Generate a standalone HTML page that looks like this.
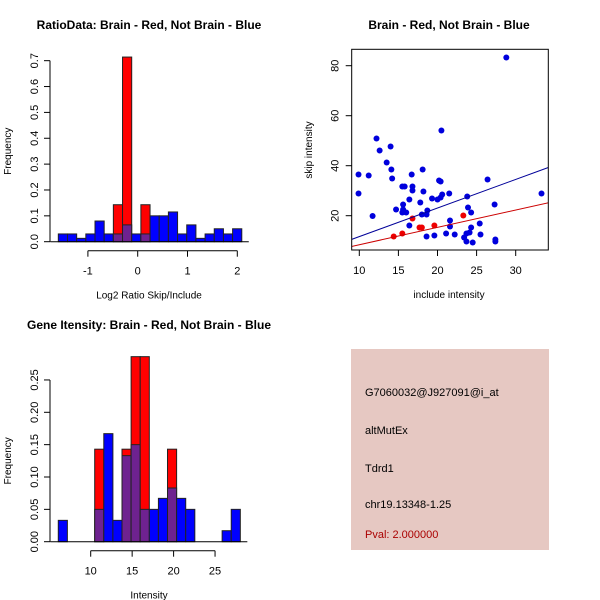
<!DOCTYPE html>
<html><head><meta charset="utf-8"><style>
body{margin:0;background:#fff}
svg{display:block;font-family:"Liberation Sans",sans-serif}
</style></head><body>
<svg id="c" width="600" height="600" viewBox="0 0 600 600"></svg>
<script>
// ---- Ratio histogram data ----
const ratioBinStart = -1.594;
const ratioBinWidth = 0.1842;
const ratioBlue = [0.03,0.03,0.013,0.03,0.08,0.03,0.03,0.065,0.03,0.03,0.1,0.1,0.115,0.03,0.065,0.013,0.03,0.05,0.03,0.05];
const ratioRed  = [0,0,0,0,0,0,0.143,0.714,0,0.143,0,0,0,0,0,0,0,0,0,0];
const ratioXTicks = [-1,0,1,2];
const ratioYTicks = ["0.0","0.1","0.2","0.3","0.4","0.5","0.6","0.7"];
// ---- Scatter data ----
const blueX = [9.9,9.9,11.2,11.7,12.2,12.6,13.5,14.0,14.1,14.2,14.7,15.5,15.8,15.6,15.6,15.5,16.0,16.4,16.4,16.7,16.8,16.8,17.8,18.1,18.2,18.0,18.6,18.7,18.6,19.3,19.6,20.0,20.2,20.4,20.4,20.6,20.5,21.1,21.5,21.6,21.6,22.2,23.4,23.7,23.7,23.8,23.9,24.1,24.3,24.3,24.5,25.4,25.5,26.4,27.3,27.4,27.4,28.8,33.3];
const blueY = [36.5,28.9,36.1,19.9,50.9,46.1,41.3,47.7,38.5,34.9,22.5,31.7,31.7,24.5,22.5,21.3,21.3,26.5,16.1,36.5,31.7,30.1,25.3,38.5,29.7,20.5,20.5,22.1,11.7,26.9,12.1,26.5,34.1,33.7,27.3,28.5,54.1,12.9,28.9,18.1,15.7,12.5,11.3,9.7,12.9,27.7,23.3,13.3,21.3,15.3,9.3,16.9,12.5,34.5,24.5,10.5,9.7,83.3,28.9];
const redX = [14.4,15.5,16.8,17.7,18.0,19.6,23.3];
const redY = [11.7,12.9,18.9,15.3,15.3,16.1,20.1];
const blueFit = [0.21,1.143]; // intercept, slope
const redFit = [1.45,0.694];
const scatXTicks = [10,15,20,25,30];
const scatYTicks = [20,40,60,80];
// ---- Intensity histogram data ----
const intBinStart = 6.09;
const intBinWidth = 1.098;
const intBlue = [0.033,0,0,0,0.05,0.167,0.033,0.133,0.15,0.05,0.05,0.067,0.083,0.067,0.05,0,0,0,0.017,0.05];
const intRed  = [0,0,0,0,0.143,0,0,0.143,0.286,0.286,0,0,0.143,0,0,0,0,0,0,0];
const intXTicks = [10,15,20,25];
const intYTicks = ["0.00","0.05","0.10","0.15","0.20","0.25"];
const infoLines = ["G7060032@J927091@i_at","altMutEx","Tdrd1","chr19.13348-1.25"];
const pvalText = "Pval: 2.000000";

const svg=document.getElementById('c');
const NS='http://www.w3.org/2000/svg';
function mk(tag,attrs,parent){const e=document.createElementNS(NS,tag);for(const k in attrs)e.setAttribute(k,attrs[k]);(parent||svg).appendChild(e);return e;}
function txt(s,x,y,o,parent){const e=mk('text',Object.assign({x:x,y:y,'font-size':11,fill:'#000'},o||{}),parent);e.textContent=s;return e;}

function hist(g,cfg){
  const sx=v=>cfg.x0+(v-cfg.d0)*cfg.kx, sy=v=>cfg.y0-v*cfg.ky;
  cfg.blue.forEach((b,i)=>{
    const r=cfg.red[i];const xl=sx(cfg.bs+i*cfg.bw), xr=sx(cfg.bs+(i+1)*cfg.bw);
    const top=Math.max(b,r); if(top<=0) return;
    const col = r>0 && b>0 ? null : (r>0?'#ff0000':'#0000ff');
    if(r>0){const e=mk('rect',{x:xl,y:sy(r),width:xr-xl,height:sy(0)-sy(r),fill:'#ff0000',stroke:'#222','stroke-width':1},g);
      }
    if(b>0){const c = r>0 ? '#6e2290' : '#0000ff';
      const e=mk('rect',{x:xl,y:sy(b),width:xr-xl,height:sy(0)-sy(b),fill:c,stroke:'#222','stroke-width':1},g);
      }
  });
  // baseline
  mk('line',{x1:sx(cfg.bs)-8,x2:sx(cfg.bs+20*cfg.bw)+7,y1:cfg.y0,y2:cfg.y0,stroke:'#000'},g);
  // y axis
  const yv=cfg.yt.map(Number);
  mk('line',{x1:50,x2:50,y1:sy(yv[0]),y2:sy(yv[yv.length-1]),stroke:'#000'},g);
  cfg.yt.forEach(t=>{const y=sy(+t);mk('line',{x1:44,x2:50,y1:y,y2:y,stroke:'#000'},g);
    const e=txt(t,38,y,{transform:`rotate(-90 38 ${y})`,'text-anchor':'middle'},g);});
  // x axis
  const ay=cfg.y0+9;
  mk('line',{x1:sx(cfg.xt[0]),x2:sx(cfg.xt[cfg.xt.length-1]),y1:ay,y2:ay,stroke:'#000'},g);
  cfg.xt.forEach(t=>{const x=sx(t);mk('line',{x1:x,x2:x,y1:ay,y2:ay+6,stroke:'#000'},g);
    const e=txt(String(t).replace('-','\u2212').replace('\u2212','-'),x,ay+24,{'text-anchor':'middle'},g);});
  const yl=txt('Frequency',11,(cfg.y0+sy(yv[yv.length-1]))/2,{'font-size':10,'text-anchor':'middle',transform:`rotate(-90 11 ${(cfg.y0+sy(yv[yv.length-1]))/2})`},g);
  
  const xl=txt(cfg.xlab,149,cfg.y0+57,{'font-size':10,'text-anchor':'middle'},g);
  
  const ti=txt(cfg.title,149,cfg.titleY,{'font-size':12,'font-weight':'bold','text-anchor':'middle'},g);
  
}

const g1=mk('g',{});
hist(g1,{x0:137.7,d0:0,kx:49.8,y0:241.7,ky:258.6,bs:ratioBinStart,bw:ratioBinWidth,blue:ratioBlue,red:ratioRed,xt:ratioXTicks,yt:ratioYTicks,xlab:'Log2 Ratio Skip/Include',title:'RatioData: Brain - Red, Not Brain - Blue',titleY:29});
const g3=mk('g',{});
hist(g3,{x0:90.7,d0:10,kx:8.29,y0:541.7,ky:647,bs:intBinStart,bw:intBinWidth,blue:intBlue,red:intRed,xt:intXTicks,yt:intYTicks,xlab:'Intensity',title:'Gene Itensity: Brain - Red, Not Brain - Blue',titleY:329});

// scatter
const g2=mk('g',{});
const px=v=>359.3+(v-10)*7.82, py=v=>215.7-(v-20)*2.5;
const L=351.7,R=548.3,T=49.3,B=250;
const cp=mk('clipPath',{id:'cp'},g2);mk('rect',{x:L,y:T,width:R-L,height:B-T},cp);
const inner=mk('g',{'clip-path':'url(#cp)'},g2);
blueX.forEach((x,i)=>{const e=mk('circle',{cx:px(x),cy:py(blueY[i]),r:3,fill:'#0000dd'},inner);});
redX.forEach((x,i)=>{const e=mk('circle',{cx:px(x),cy:py(redY[i]),r:3,fill:'#ee0000'},inner);});
[[blueFit,'#000099','blue-fit-line'],[redFit,'#cc0000','red-fit-line']].forEach(([f,c,n])=>{
  const x1=8,x2=36;const e=mk('line',{x1:px(x1),y1:py(f[0]+f[1]*x1),x2:px(x2),y2:py(f[0]+f[1]*x2),stroke:c,'stroke-width':1},inner);
  });
mk('rect',{x:L,y:T,width:R-L,height:B-T,fill:'none',stroke:'#000'},g2);
scatXTicks.forEach(t=>{const x=px(t);mk('line',{x1:x,x2:x,y1:B,y2:B+6,stroke:'#000'},g2);
  const e=txt(String(t),x,B+24,{'text-anchor':'middle'},g2);});
scatYTicks.forEach(t=>{const y=py(t);mk('line',{x1:L-6,x2:L,y1:y,y2:y,stroke:'#000'},g2);
  const e=txt(String(t),L-13,y,{'text-anchor':'middle',transform:`rotate(-90 ${L-13} ${y})`},g2);});
let e=txt('include intensity',449,298,{'font-size':10,'text-anchor':'middle'},g2);
e=txt('skip intensity',312,150,{'font-size':10,'text-anchor':'middle',transform:'rotate(-90 312 150)'},g2);
e=txt('Brain - Red, Not Brain - Blue',449,29,{'font-size':12,'font-weight':'bold','text-anchor':'middle'},g2);

// info box
const g4=mk('g',{});
mk('rect',{x:351,y:349,width:198,height:201,fill:'#e6c8c2'},g4);
const ys=[396,434,472,508];
infoLines.forEach((s,i)=>{const t=txt(s,365,ys[i],{'font-size':11},g4);});
e=txt(pvalText,365,538,{'font-size':11,fill:'#aa0000'},g4);
</script>
</body></html>
